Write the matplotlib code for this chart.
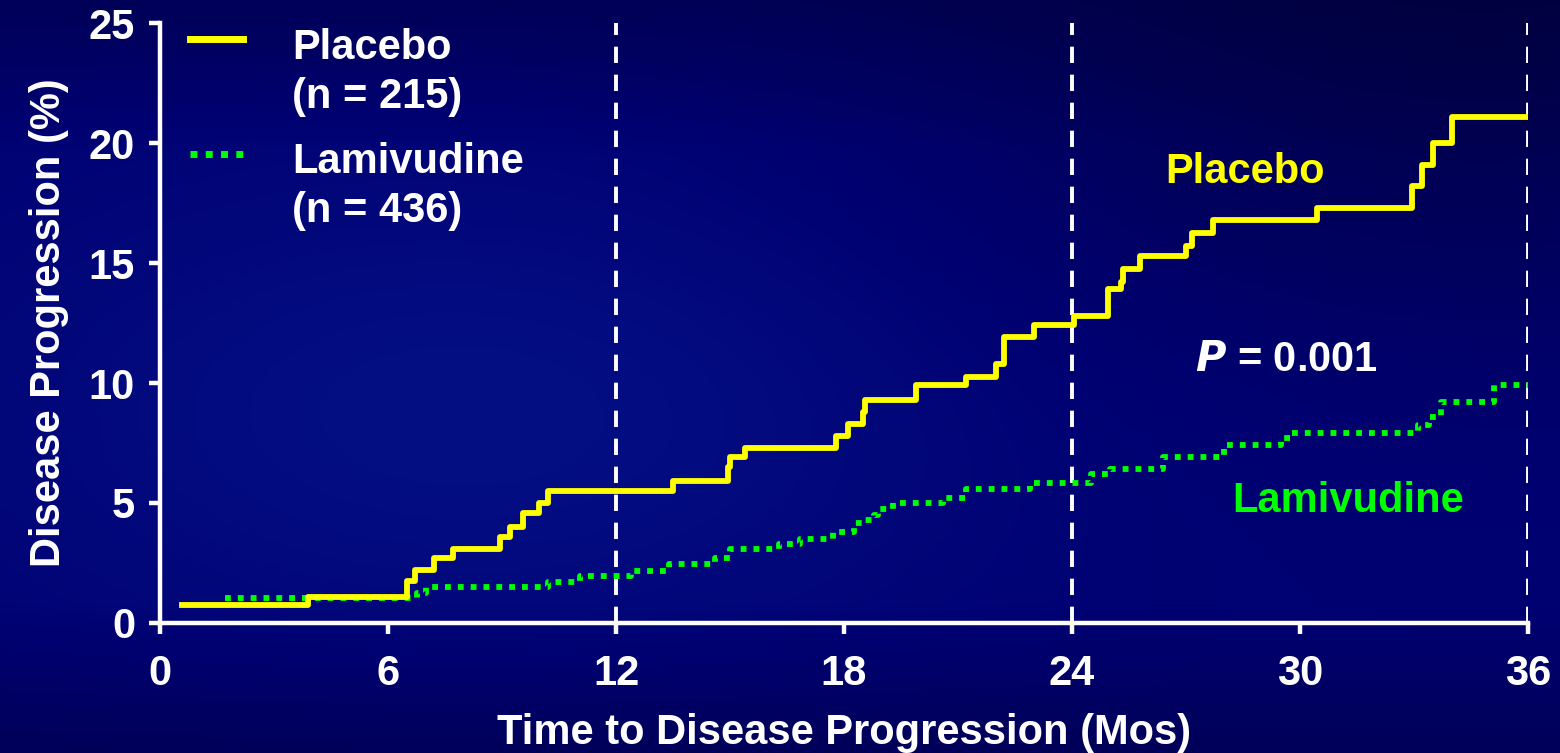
import numpy as np
import matplotlib.pyplot as plt
from matplotlib.colors import LinearSegmentedColormap

# Kaplan-Meier style cumulative progression
placebo_t = [0.58, 3.9, 6.5, 6.7, 7.2, 7.7, 8.95, 9.2, 9.55, 9.97, 10.2, 13.5, 14.95, 15.0, 15.4,
             17.8, 18.1, 18.5, 18.55, 19.9, 21.2, 22.0, 22.2, 23.0, 24.05, 24.95, 25.3, 25.35,
             25.8, 27.0, 27.15, 27.7, 30.45, 32.95, 33.2, 33.5, 34.0, 36.0]
placebo_pct = [0.75, 1.1, 1.75, 2.2, 2.7, 3.1, 3.6, 4.0, 4.6, 5.0, 5.5, 5.9, 6.5, 6.9, 7.3,
               7.8, 8.3, 8.8, 9.3, 9.9, 10.25, 10.8, 11.9, 12.4, 12.8, 13.9, 14.2, 14.75,
               15.3, 15.7, 16.25, 16.8, 17.3, 18.2, 19.1, 20.0, 21.1, 21.1]

lamivudine_t = [1.7, 6.75, 7.0, 10.2, 11.05, 12.4, 13.4, 14.6, 15.0, 16.3, 16.85, 17.7, 18.25,
                18.55, 18.8, 18.9, 19.3, 20.6, 21.2, 22.9, 24.5, 25.0, 26.4, 28.0, 29.5, 29.75,
                33.1, 33.4, 33.7, 35.1, 36.0]
lamivudine_pct = [1.05, 1.25, 1.5, 1.7, 1.95, 2.15, 2.45, 2.7, 3.1, 3.3, 3.5, 3.8, 4.15,
                  4.3, 4.5, 4.75, 5.0, 5.2, 5.6, 5.85, 6.2, 6.4, 6.9, 7.4, 7.7, 7.9,
                  8.25, 8.6, 9.2, 9.9, 9.9]

x_ticks = [0, 6, 12, 18, 24, 30, 36]
y_ticks = [0, 5, 10, 15, 20, 25]
ref_lines = [12, 24, 36]

YELLOW = '#ffff00'
GREEN = '#00ff00'
WHITE = '#ffffff'
FS = 30

plt.rcParams['font.family'] = ['Liberation Sans', 'DejaVu Sans']
plt.rcParams['font.weight'] = 'bold'

fig = plt.figure(figsize=(15.6, 7.53), dpi=100)

#Background: dark navy slide with a faint lighter patch
bg = fig.add_axes([0, 0, 1, 1], zorder=-10)
yy, xx = np.mgrid[0:1:200j, 0:1:400j]
glow = np.exp(-(((xx - 0.3) / 0.3) ** 2 + ((yy - 0.55) / 0.3) ** 2))
corner = np.exp(-(((xx - 0.95) / 0.35) ** 2 + ((yy - 0.1) / 0.35) ** 2))
edge = np.clip(1 - np.maximum(np.abs(yy - 0.5) - 0.3, 0) / 0.2, 0, 1)
val = 0.52 + 0.16 * glow - 0.2 * corner
val = val * (0.7 + 0.3 * edge)
cmap = LinearSegmentedColormap.from_list('slide', ['#000018', '#000070', '#0a2aa8'])
bg.imshow(val, cmap=cmap, vmin=0, vmax=1, aspect='auto', extent=[0, 1, 0, 1], origin='upper')
bg.axis('off')

ax = fig.add_axes([160 / 1560, 1 - 623 / 753, (1528 - 160) / 1560, 600 / 753])
ax.patch.set_alpha(0)

#reference lines
for r in ref_lines:
    ax.axvline(r, color=WHITE, lw=2.8, dashes=(4.2, 3.0), zorder=1)

#curves
ax.step(placebo_t, placebo_pct, where='post', color=YELLOW, lw=4.2, zorder=3)
ax.step(lamivudine_t, lamivudine_pct, where='post', color=GREEN, lw=4.2,
        dashes=(1, 1.2), dash_capstyle='butt', zorder=2)

ax.set_xlim(0, 36)
ax.set_ylim(0, 25)
ax.set_xticks(x_ticks)
ax.set_yticks(y_ticks)
for s in ['top', 'right']:
    ax.spines[s].set_visible(False)
for s in ['left', 'bottom']:
    ax.spines[s].set_color(WHITE)
    ax.spines[s].set_linewidth(3.2)
ax.tick_params(colors=WHITE, width=3.2, length=8, labelsize=FS)
ax.tick_params(axis='x', pad=14)
ax.tick_params(axis='y', pad=10)
for lab in ax.get_xticklabels() + ax.get_yticklabels():
    lab.set_fontweight('bold')

ax.set_xlabel('Time to Disease Progression (Mos)', color=WHITE, fontsize=FS, fontweight='bold', labelpad=14)
ax.set_ylabel('Disease Progression (%)', color=WHITE, fontsize=FS, fontweight='bold', labelpad=14)

#legend, drawn by hand
ax.plot([0.022, 0.061], [0.973, 0.973], transform=ax.transAxes, color=YELLOW, lw=5, clip_on=False)
ax.plot([0.022, 0.061], [0.782, 0.782], transform=ax.transAxes, color=GREEN, lw=5,
        dashes=(1, 1.2), dash_capstyle='butt', clip_on=False)
ax.text(0.0965, 0.918, 'Placebo\n(n = 215)', transform=ax.transAxes, color=WHITE, fontsize=FS,
        fontweight='bold', va='center', ha='left', linespacing=1.3)
ax.text(0.0965, 0.728, 'Lamivudine\n(n = 436)', transform=ax.transAxes, color=WHITE, fontsize=FS,
        fontweight='bold', va='center', ha='left', linespacing=1.3)

#curve labels
ax.text(28.55, 18.8, 'Placebo', color=YELLOW, fontsize=FS, fontweight='bold', ha='center', va='center')
ax.text(29.65, 10.96, '$\\bf{\\it{P}}$ = 0.001', color=WHITE, fontsize=FS, fontweight='bold', ha='center', va='center')
ax.text(31.26, 5.1, 'Lamivudine', color=GREEN, fontsize=FS, fontweight='bold', ha='center', va='center')

fig.savefig('out.png', dpi=100)
